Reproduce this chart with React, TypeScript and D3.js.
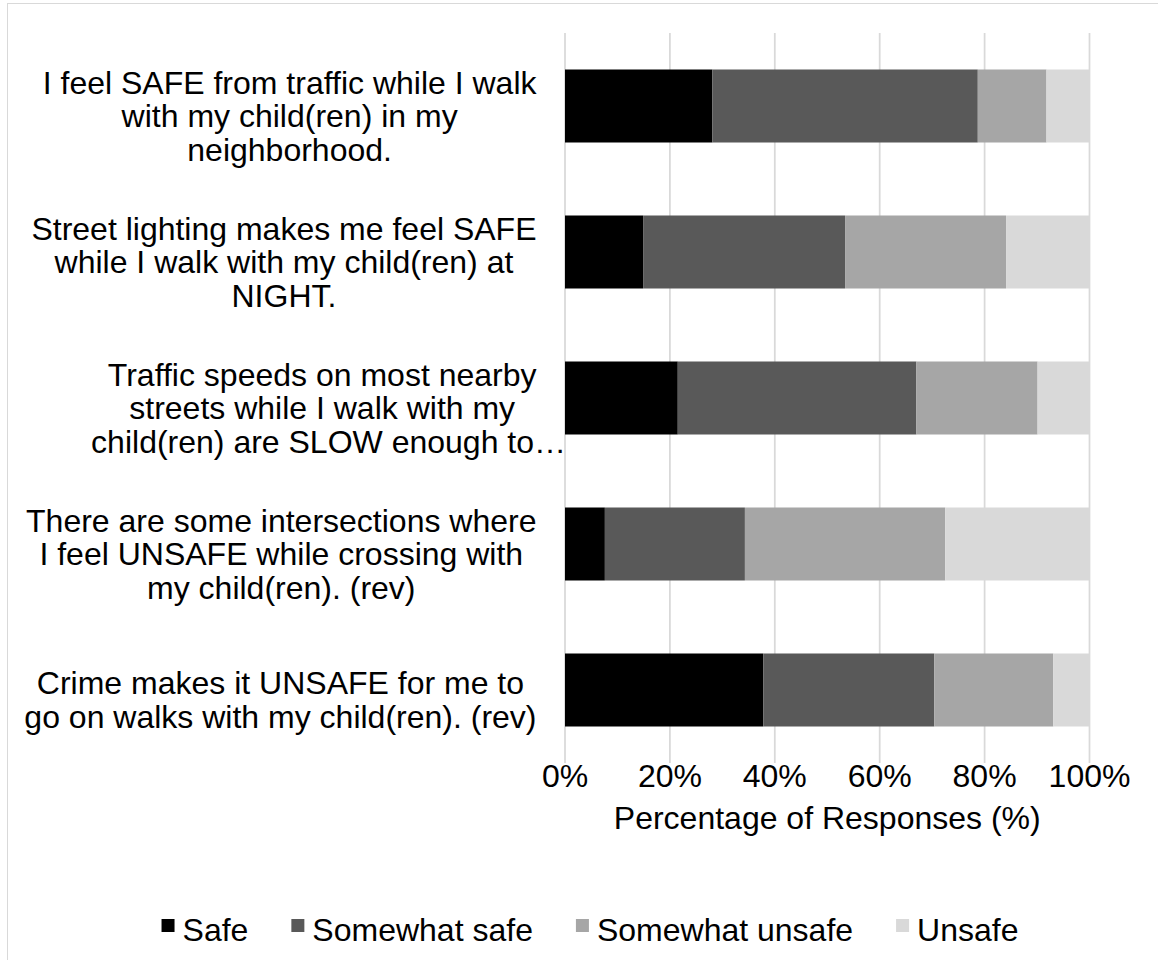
import React, { useEffect, useRef } from "react";
import * as d3 from "d3";

const categories: string[][] = [
  ["I feel SAFE from traffic while I walk", "with my child(ren) in my", "neighborhood."],
  ["Street lighting makes me feel SAFE", "while I walk with my child(ren) at", "NIGHT."],
  ["Traffic speeds on most nearby", "streets while I walk with my", "child(ren) are SLOW enough to…"],
  ["There are some intersections where", "I feel UNSAFE while crossing with", "my child(ren). (rev)"],
  ["Crime makes it UNSAFE for me to", "go on walks with my child(ren). (rev)"],
];
const seriesNames = ["Safe", "Somewhat safe", "Somewhat unsafe", "Unsafe"];
const safe = [28.1, 14.9, 21.5, 7.6, 37.8];
const somewhatSafe = [50.6, 38.5, 45.5, 26.7, 32.6];
const somewhatUnsafe = [13.1, 30.7, 23.1, 38.2, 22.7];
const unsafe = [8.2, 15.9, 9.9, 27.5, 6.9];
const tickValues = [0, 20, 40, 60, 80, 100];
const colors = ["#000000", "#595959", "#a6a6a6", "#d9d9d9"];

const W = 1158;
const H = 960;
const FONT = "'Liberation Sans', Arial, sans-serif";
const FS = 32;

export default function App() {
  const ref = useRef<SVGSVGElement | null>(null);
  useEffect(() => {
    const svg = d3.select(ref.current);
    svg.selectAll("*").remove();

    svg.append("rect").attr("x", 7.5).attr("y", 3.5).attr("width", 1200).attr("height", 1000)
      .attr("fill", "#fff").attr("stroke", "#d9d9d9").attr("stroke-width", 1);

    const x = d3.scaleLinear().domain([0, 100]).range([565, 1089.5]);
    const ids = categories.map((_, i) => String(i));
    const y = d3.scaleBand().domain(ids).range([33, 763]).paddingInner(0.5).paddingOuter(0.25);

    // gridlines
    svg.append("g").selectAll("line").data(tickValues).join("line")
      .attr("x1", (d) => x(d)).attr("x2", (d) => x(d))
      .attr("y1", 33).attr("y2", 763).attr("stroke", "#d9d9d9").attr("stroke-width", 1.75);

    const series = [safe, somewhatSafe, somewhatUnsafe, unsafe];
    const rows = categories.map((_, i) => {
      const o: any = { id: String(i) };
      seriesNames.forEach((s, k) => (o[s] = series[k][i]));
      return o;
    });
    const stacked = d3.stack().keys(seriesNames)(rows);
    stacked.forEach((layer, k) => {
      svg.append("g").selectAll("rect").data(layer).join("rect")
        .attr("x", (d) => x(d[0]))
        .attr("width", (d) => x(d[1]) - x(d[0]))
        .attr("y", (d: any) => y(d.data.id)!)
        .attr("height", y.bandwidth())
        .attr("fill", colors[k]);
    });

    // category labels: each block right-aligned near the axis, lines centred within block
    const lineH = 33.5;
    const rightEdge = 536.5;
    categories.forEach((lines, i) => {
      const cy = y(String(i))! + y.bandwidth() / 2 + 10;
      const n = lines.length;
      const g = svg.append("g");
      const nodes = lines.map((ln, j) =>
        g.append("text").attr("font-family", FONT).attr("font-size", FS).attr("fill", "#000")
          .attr("y", cy + (j - (n - 1) / 2) * lineH + FS * 0.35)
          .text(ln)
      );
      const widths = nodes.map((t) => (t.node() as SVGTextElement).getComputedTextLength());
      const full = widths.filter((_, j) => !lines[j].endsWith("…"));
      const blockW = d3.max(full) || 0;
      const center = rightEdge - blockW / 2;
      nodes.forEach((t, j) => {
        if (lines[j].endsWith("…")) {
          t.attr("text-anchor", "end").attr("x", x(0) + 1);
        } else {
          t.attr("text-anchor", "middle").attr("x", center);
        }
      });
    });

    // tick labels
    svg.append("g").selectAll("text").data(tickValues).join("text")
      .attr("x", (d) => x(d)).attr("y", 787)
      .attr("text-anchor", "middle").attr("font-family", FONT).attr("font-size", FS)
      .text((d) => d + "%");

    svg.append("text").attr("x", (x(0) + x(100)) / 2).attr("y", 829)
      .attr("text-anchor", "middle").attr("font-family", FONT).attr("font-size", FS)
      .text("Percentage of Responses (%)");

    // legend
    const lg = svg.append("g");
    const sq = 13;
    const items = seriesNames.map((s, k) => {
      const g = lg.append("g");
      g.append("rect").attr("width", sq).attr("height", sq).attr("y", -22).attr("fill", colors[k]);
      const t = g.append("text").attr("x", sq + 8).attr("font-family", FONT).attr("font-size", FS).text(s);
      const w = (t.node() as SVGTextElement).getComputedTextLength();
      return { g, w: sq + 8 + w };
    });
    const gap = 43;
    const total = d3.sum(items, (d) => d.w) + gap * (items.length - 1);
    let cx = 590 - total / 2;
    items.forEach((it) => {
      it.g.attr("transform", `translate(${cx},941)`);
      cx += it.w + gap;
    });
  }, []);
  return (
    <svg ref={ref} width={W} height={H}
      style={{ position: "absolute", left: 0, top: 0, background: "#fff" }} />
  );
}
